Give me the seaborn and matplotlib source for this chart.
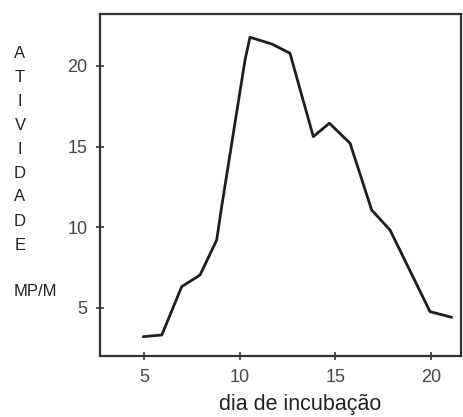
import matplotlib
matplotlib.use("Agg")
import matplotlib.pyplot as plt
import seaborn as sns
import pandas as pd

# Data
dia = [4.96, 5.93, 6.97, 7.93, 8.80, 9.06, 10.28, 10.54, 11.68, 12.63,
       13.85, 14.69, 15.77, 16.90, 17.86, 19.95, 21.08]
atividade = [3.22, 3.32, 6.32, 7.04, 9.21, 11.28, 20.37, 21.78, 21.36, 20.79,
             15.62, 16.45, 15.21, 11.07, 9.83, 4.77, 4.42]
x_ticks = [5, 10, 15, 20]
y_ticks = [5, 10, 15, 20]
y_letters = list("ATIVIDADE")
unit_label = "MP/M"
x_label = "dia de incubação"

df = pd.DataFrame({"dia": dia, "atividade": atividade})

sns.set_style("ticks")
plt.rcParams["font.family"] = ["Liberation Sans", "DejaVu Sans"]

fig = plt.figure(figsize=(4.63, 4.17), dpi=100)
ax = fig.add_axes([100 / 463, 1 - 356 / 417, 361 / 463, 342 / 417])

sns.lineplot(data=df, x="dia", y="atividade", ax=ax, color="#1e1e1e",
             linewidth=2.0, sort=False)

ax.set_xlim(2.70, 21.57)
ax.set_ylim(2.02, 23.22)
ax.set_xticks(x_ticks)
ax.set_yticks(y_ticks)
ax.set_xticklabels([str(t) for t in x_ticks])
ax.set_yticklabels([str(t) for t in y_ticks])
ax.tick_params(direction="inout", length=6, width=1.3, color="#444444",
               labelsize=13, labelcolor="#444444", pad=6)
for s in ax.spines.values():
    s.set_color("#333333")
    s.set_linewidth(1.6)
ax.set_xlabel("")
ax.set_ylabel("")

# x label
fig.text(300 / 463, 1 - 410 / 417, x_label, ha="center", va="baseline",
         fontsize=15.5, color="#222222")

# stacked vertical y label
y0 = 53
for i, ch in enumerate(y_letters):
    fig.text(20 / 463, 1 - (y0 + i * 24.0) / 417, ch, ha="center",
             va="center", fontsize=12, color="#222222")
fig.text(35 / 463, 1 - 292 / 417, unit_label, ha="center", va="center",
         fontsize=12, color="#222222")

fig.savefig("out.png", dpi=100)
